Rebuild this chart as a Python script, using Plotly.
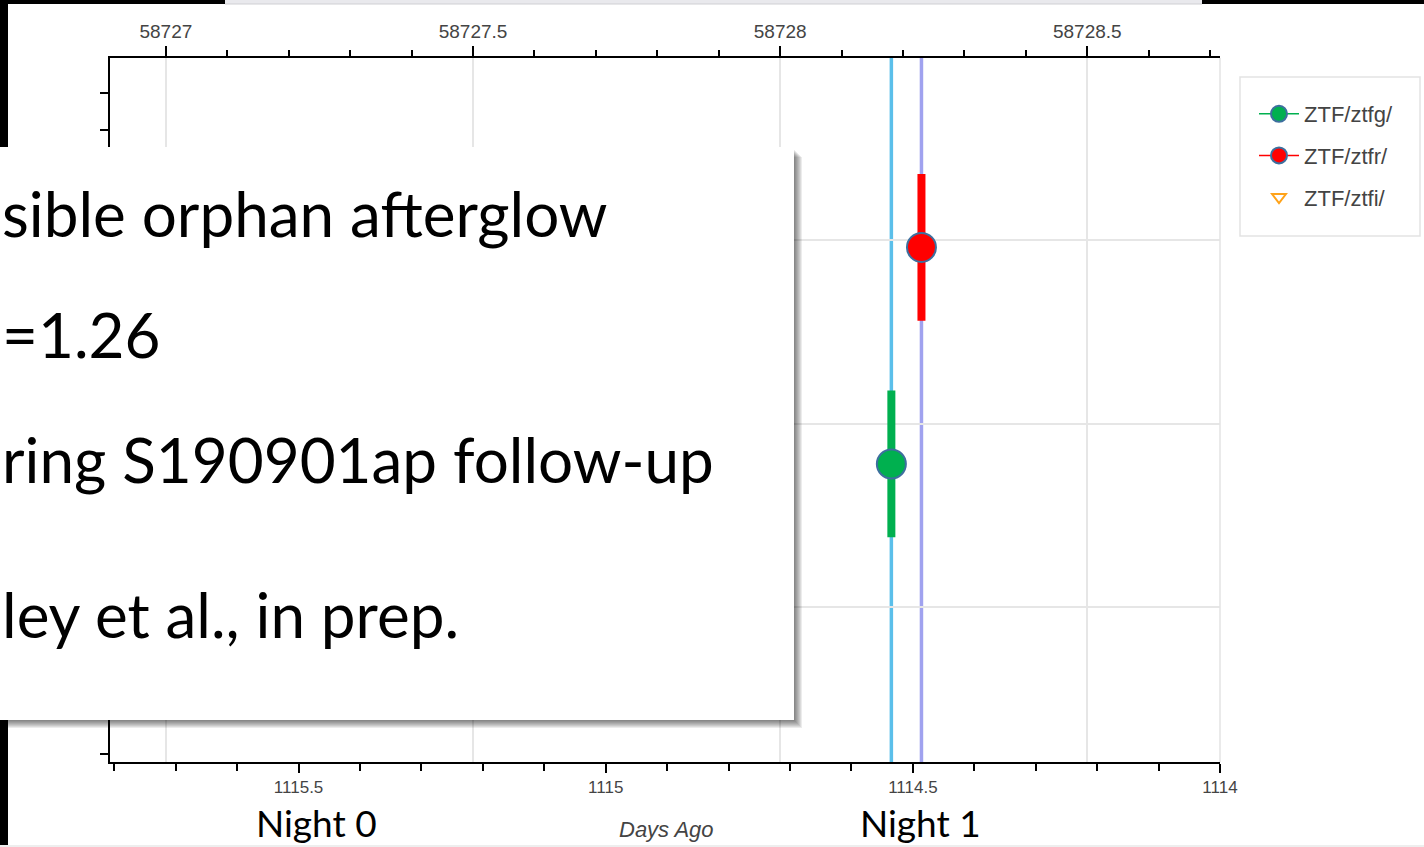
import plotly.graph_objects as go

# ---------------- data ----------------
filters = ["ZTF/ztfg/", "ZTF/ztfr/", "ZTF/ztfi/"]
filter_colors = ["#00b04f", "#ff0000", "#ffa31a"]
obs_filter = ["ZTF/ztfg/", "ZTF/ztfr/"]
obs_mjd = [58728.181, 58728.230]
obs_mag = [21.11, 20.52]
obs_err = [0.20, 0.20]
vline_mjd = [58728.181, 58728.230]
vline_colors = ["#5bbfea", "#a0a2ef"]
mjd_ticks = [58727, 58727.5, 58728, 58728.5]
mjd_ticktext = ["58727", "58727.5", "58728", "58728.5"]
days_ticks = [1115.5, 1115, 1114.5, 1114]
days_ticktext = ["1115.5", "1115", "1114.5", "1114"]
mjd_now = 59842.716
mjd_range = [58726.909, 58728.716]
mag_range = [21.922, 20.004]
box_lines = ["sible orphan afterglow", "=1.26", "ring S190901ap follow-up", "ley et al., in prep."]
night_labels = ["Night 0", "Night 1"]
xlabel = "Days Ago"

# ---------------- geometry helpers (pixels -> paper) ----------------
W, H = 1424, 847
L, R, T, B = 110, 1220, 58, 762
def px(x):
    return (x - L) / (R - L)
def py(y):
    return (B - y) / (B - T)

fig = go.Figure()

for f, c in zip(filters, filter_colors):
    xs = [m for m, ff in zip(obs_mjd, obs_filter) if ff == f]
    ys = [m for m, ff in zip(obs_mag, obs_filter) if ff == f]
    es = [e for e, ff in zip(obs_err, obs_filter) if ff == f]
    if xs:
        fig.add_trace(go.Scatter(
            x=xs, y=ys, name=f, mode="lines+markers",
            line=dict(color=c, width=1.5),
            marker=dict(symbol="circle", size=29, color=c,
                        line=dict(color="#3d6f9e", width=2)),
            error_y=dict(type="data", array=es, color=c, thickness=8, width=0),
            legendgroup=f,
        ))
    else:
        fig.add_trace(go.Scatter(
            x=[None], y=[None], name=f, mode="markers",
            marker=dict(symbol="triangle-down-open", size=12, color=c,
                        line=dict(color=c, width=2)),
            legendgroup=f,
        ))

# invisible trace to anchor the "Days Ago" axis
fig.add_trace(go.Scatter(
    x=[mjd_now - m for m in obs_mjd], y=obs_mag, xaxis="x2", mode="markers",
    marker=dict(opacity=0), showlegend=False, hoverinfo="skip",
))

tickfont = dict(family="Liberation Sans, Arial, sans-serif", size=19, color="#444")

shapes = []
for m, c in zip(vline_mjd, vline_colors):
    shapes.append(dict(type="line", xref="x", yref="paper", x0=m, x1=m, y0=0, y1=1,
                       line=dict(color=c, width=3.5), layer="between"))
# right outline
shapes.append(dict(type="line", xref="paper", yref="paper", x0=1, x1=1, y0=0, y1=1,
                   line=dict(color="#e3e3e3", width=1.5), layer="above"))

def rect(x0, y0, x1, y1, color, layer="above", line=None):
    return dict(type="rect", xref="paper", yref="paper",
                x0=px(x0), x1=px(x1), y0=py(y1), y1=py(y0),
                fillcolor=color, line=line or dict(width=0), layer=layer)

# legend frame
shapes.append(rect(1240, 77, 1420, 236, "#ffffff", layer="below",
                   line=dict(color="#e3e3e3", width=1.5)))
# slide frame bits
shapes.append(rect(-20, -20, 225, 4, "#000000"))
shapes.append(rect(225, -20, 1202, 4, "#e9e9ed"))
shapes.append(rect(225, 3.5, 1202, 4.5, "#cfcfd4"))
shapes.append(rect(1202, -20, 1450, 4, "#000000"))
shapes.append(rect(-20, -20, 8, 860, "#000000"))
shapes.append(rect(-20, 845, 1450, 860, "#eeeeee"))
# shadow of text box
for i in range(1, 9):
    shapes.append(rect(-20, 147 + i + 2, 794 + i, 720 + i, "rgba(0,0,0,0.075)"))
# text box
shapes.append(rect(-20, 147, 794, 720, "#ffffff"))

annotations = []
box_centers = [213, 334, 459, 614]
for t, yc in zip(box_lines, box_centers):
    annotations.append(dict(text=t, xref="paper", yref="paper", x=px(0), y=py(yc),
                            xanchor="left", yanchor="middle", showarrow=False,
                            font=dict(family="Lato, sans-serif", size=62, color="#000")))
for t, xc in zip(night_labels, [316, 920]):
    annotations.append(dict(text=t, xref="paper", yref="paper", x=px(xc), y=py(846.5),
                            xanchor="center", yanchor="bottom", showarrow=False,
                            font=dict(family="Lato, sans-serif", size=37, color="#000")))
annotations.append(dict(text=xlabel, xref="paper", yref="paper", x=px(666), y=py(829),
                        xanchor="center", yanchor="middle", showarrow=False,
                        font=dict(family="Liberation Sans, Arial, sans-serif", size=22,
                                  color="#444", style="italic")))

fig.update_layout(
    width=W, height=H, autosize=False,
    margin=dict(l=L, r=W - R, t=T, b=H - B, pad=0),
    paper_bgcolor="#ffffff", plot_bgcolor="#ffffff",
    xaxis=dict(
        side="top", range=mjd_range, tickmode="array", tickvals=mjd_ticks, ticktext=mjd_ticktext,
        ticks="outside", ticklen=10, tickwidth=2, tickcolor="#000",
        showline=True, linecolor="#000", linewidth=2, zeroline=False,
        showgrid=True, gridcolor="#e6e6e6", gridwidth=1.5,
        minor=dict(ticks="outside", ticklen=6, tickwidth=2, tickcolor="#000",
                   dtick=0.1, tick0=58727, showgrid=False),
        tickfont=tickfont, anchor="y", ticklabelstandoff=0,
    ),
    xaxis2=dict(
        overlaying="x", side="bottom", anchor="y",
        range=[mjd_now - mjd_range[0], mjd_now - mjd_range[1]],
        tickmode="array", tickvals=days_ticks, ticktext=days_ticktext,
        ticks="outside", ticklen=9, tickwidth=2, tickcolor="#000",
        showline=True, linecolor="#000", linewidth=2, zeroline=False, showgrid=False,
        minor=dict(ticks="outside", ticklen=7, tickwidth=2, tickcolor="#000",
                   dtick=0.1, tick0=1114, showgrid=False),
        tickfont=dict(family="Liberation Sans, Arial, sans-serif", size=17, color="#444"),
        ticklabelstandoff=0,
    ),
    yaxis=dict(
        range=mag_range, tick0=20, dtick=0.5, ticks="outside", ticklen=10, tickwidth=2,
        tickcolor="#000", showticklabels=False,
        showline=True, linecolor="#000", linewidth=2, zeroline=False,
        showgrid=True, gridcolor="#e6e6e6", gridwidth=1.5,
        minor=dict(ticks="outside", ticklen=8, tickwidth=2, tickcolor="#000",
                   dtick=0.1, showgrid=False),
    ),
    legend=dict(
        x=px(1254), y=py(93), xanchor="left", yanchor="top",
        font=dict(family="Liberation Sans, Arial, sans-serif", size=22, color="#444"),
        bgcolor="rgba(0,0,0,0)", borderwidth=0, itemwidth=40,
        itemsizing="trace", traceorder="grouped", tracegroupgap=10,
    ),
    shapes=shapes,
    annotations=annotations,
    showlegend=True,
)

fig.write_html("out.html", config={"displayModeBar": False},
               post_script="document.body.style.margin='0';document.body.style.overflow='hidden';")
